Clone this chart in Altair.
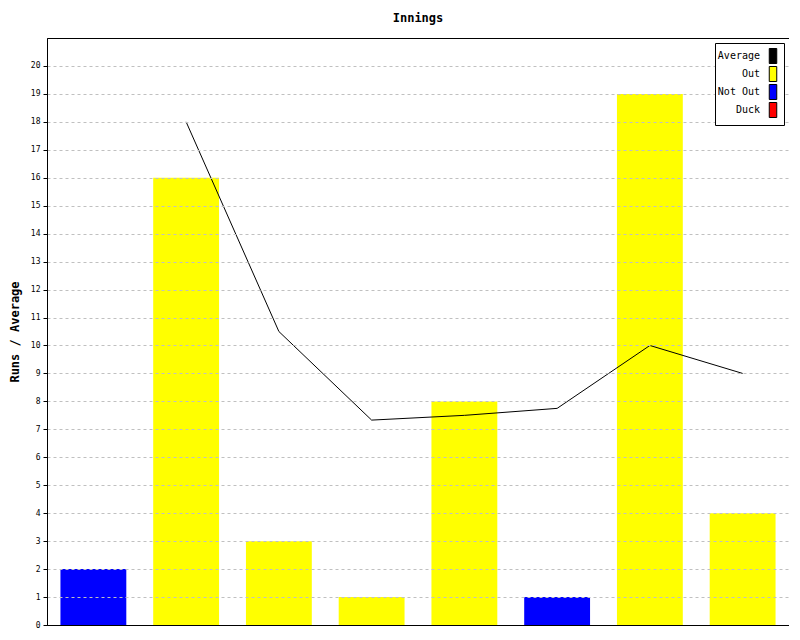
import altair as alt
import pandas as pd

innings = [1, 2, 3, 4, 5, 6, 7, 8]
runs = [2, 16, 3, 1, 8, 1, 19, 4]
status = ["Not Out", "Out", "Out", "Out", "Out", "Not Out", "Out", "Out"]
average = [None, 18, 10.5, 7.33, 7.5, 7.75, 10, 9]
y_ticks = list(range(0, 21))

legend_names = ["Average", "Out", "Not Out", "Duck"]
legend_colors = ["#000000", "#ffff00", "#0000ff", "#ff0000"]

df = pd.DataFrame({"inning": innings, "runs": runs, "status": status, "average": average})

FONT = "DejaVu Sans Mono"

y_axis = alt.Axis(
    values=y_ticks,
    labelOverlap=False,
    grid=True,
    gridDash={"condition": {"test": "datum.value === 0", "value": []}, "value": [3, 3]},
    gridColor={"condition": {"test": "datum.value === 0", "value": "black"}, "value": "#c0c0c0"},
    gridOpacity=1,
    domainColor="black",
    tickColor="black",
    tickSize=4,
    labelPadding=3,
    labelFont=FONT,
    labelFontSize=8,
    labelColor="black",
    titleFont=FONT,
    titleFontSize=12,
    titleFontWeight="bold",
    titleColor="black",
    titlePadding=9,
    zindex=1,
)
y_scale = alt.Scale(domain=[0, 21], nice=False)
x_scale = alt.Scale(paddingInner=0.29, paddingOuter=0.145)

bars = alt.Chart(df).mark_bar().encode(
    x=alt.X("inning:O", axis=None, scale=x_scale),
    y=alt.Y("runs:Q", title="Runs / Average", scale=y_scale, axis=y_axis),
    color=alt.Color(
        "status:N",
        scale=alt.Scale(domain=legend_names, range=legend_colors),
        legend=alt.Legend(
            title=None,
            orient="top-right",
            offset=5,
            zindex=2,
            fillColor="white",
            strokeColor="black",
            padding=5,
            labelFont=FONT,
            labelFontSize=10,
            labelColor="black",
            labelAlign="right",
            labelOffset={"expr": "-21"},
            symbolOffset=45,
            symbolType="M-0.5,-1L0.5,-1L0.5,1L-0.5,1Z",
            symbolSize=225,
            symbolStrokeColor="black",
            symbolStrokeWidth=1,
            rowPadding={"expr": "-5"},
        ),
    ),
)

line = alt.Chart(df).mark_line(color="black", strokeWidth=1).encode(
    x=alt.X("inning:O", bandPosition=0.5, axis=None, scale=x_scale),
    y=alt.Y("average:Q", title="Runs / Average", scale=y_scale, axis=y_axis),
)

chart = (
    alt.layer(bars, line)
    .properties(
        width=742,
        height=587,
        title=alt.TitleParams("Innings", font=FONT, fontSize=12, fontWeight="bold", color="black", offset=13),
        padding={"left": 0, "top": 4, "right": 0, "bottom": 0},
    )
    .configure_view(stroke="black", strokeWidth=1)
)

chart.save("out.html", embed_options={"renderer": "svg", "actions": False})
